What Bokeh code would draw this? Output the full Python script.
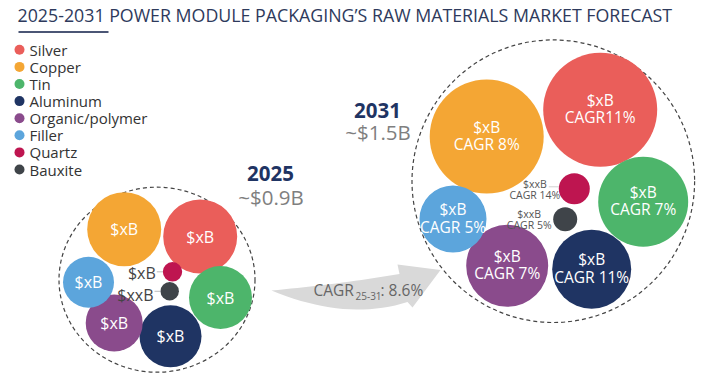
from bokeh.plotting import figure
from bokeh.models import Range1d, ColumnDataSource
from bokeh.core.properties import value
from bokeh.embed import file_html
from bokeh.resources import INLINE

# ---------------- data ----------------
materials = ["Silver", "Copper", "Tin", "Aluminum", "Organic/polymer", "Filler", "Quartz", "Bauxite"]
colors = ["#EA5E5A", "#F4A634", "#4DB56B", "#1F3463", "#8A4B8C", "#5CA5DC", "#BE1550", "#3F4449"]

# bubble sizes (radius, px) per year -- relative market size
size_2025 = [37, 37, 31.5, 31, 28.5, 25.5, 9.7, 9.2]
size_2031 = [57, 57, 45, 39.5, 41, 33.5, 15.5, 12]
value_2025 = ["$xB", "$xB", "$xB", "$xB", "$xB", "$xB", "$xB", "$xxB"]
value_2031 = ["$xB", "$xB", "$xB", "$xB", "$xB", "$xB", "$xxB", "$xxB"]
cagr_2031 = ["CAGR11%", "CAGR 8%", "CAGR 7%", "CAGR 11%", "CAGR 7%", "CAGR 5%", "CAGR 14%", "CAGR 5%"]
total_2025 = "~$0.9B"
total_2031 = "~$1.5B"
cagr_total = "8.6%"

# ---------------- layout (packing positions) ----------------
pos_2025_x = [199.7, 123.7, 220, 170, 113.7, 88, 172, 169.2]
pos_2025_y = [236, 228.7, 297, 335.8, 322.5, 281.7, 271.3, 290.8]
pos_2031_x = [599.7, 486.2, 642.7, 591.2, 506.7, 452.5, 573.8, 564.7]
pos_2031_y = [109.3, 136, 201.3, 268.7, 265.3, 218.5, 188.3, 218.8]

FONT = value("Open Sans")

p = figure(width=697, height=373, x_range=Range1d(0, 697), y_range=Range1d(373, 0),
           output_backend="svg", toolbar_location=None, min_border=0,
           x_axis_location=None, y_axis_location=None)
p.grid.visible = False
p.outline_line_color = None
p.background_fill_color = "white"

# title
p.text(x=[17], y=[14], text=["2025-2031 POWER MODULE PACKAGING\u2019S RAW MATERIALS MARKET FORECAST"],
       text_font=FONT, text_font_size=value("17.8px"), text_color="#2E3A5C",
       text_align="left", text_baseline="middle")
p.segment(x0=[18], y0=[31.5], x1=[108], y1=[31.5], line_color="#4B5675", line_width=2)

# legend
leg_y = [49.3 + 17.1 * i for i in range(len(materials))]
p.scatter(x=[19] * len(materials), y=leg_y, size=10, color=colors, line_color=None)
p.text(x=[29] * len(materials), y=leg_y, text=materials, text_font=FONT,
       text_font_size=value("15px"), text_color="#333333",
       text_align="left", text_baseline="middle")

# outer dashed containers
p.ellipse(x=[156.5], y=[279.2], width=[196], height=[185], fill_color=None,
          line_color="#444444", line_dash="4 3", line_width=1.2)
p.circle(x=[552.8], y=[180.7], radius=[141.3], fill_color=None,
         line_color="#444444", line_dash="4 3", line_width=1.2)

# arrow (decorative)
def qbez(a, c, b, n=20):
    pts = []
    for i in range(n + 1):
        t = i / n
        pts.append(((1 - t) ** 2 * a[0] + 2 * (1 - t) * t * c[0] + t ** 2 * b[0],
                    (1 - t) ** 2 * a[1] + 2 * (1 - t) * t * c[1] + t ** 2 * b[1]))
    return pts

tail = (271, 290)
top = qbez(tail, (336, 284), (399, 273.5))
bottom = qbez((407, 301.5), (346, 321), tail)
head = [(397, 264), (440, 269.5), (412, 307)]
arrow = top + head + bottom
p.patch(x=[q[0] for q in arrow], y=[q[1] for q in arrow], fill_color="#D9D9D9", line_color=None)
p.text(x=[313], y=[289], text=["CAGR"], text_font=FONT, text_font_size=value("15.5px"),
       text_color="#666666", text_align="left", text_baseline="middle")
p.text(x=[355], y=[295], text=["25-31"], text_font=FONT, text_font_size=value("10px"),
       text_color="#666666", text_align="left", text_baseline="middle")
p.text(x=[380], y=[289], text=[": " + cagr_total], text_font=FONT, text_font_size=value("15.5px"),
       text_color="#666666", text_align="left", text_baseline="middle")

# year headers
p.text(x=[270], y=[173], text=["2025"], text_font=FONT, text_font_size=value("20.5px"),
       text_font_style="bold", text_color="#1F3463", text_align="center", text_baseline="middle")
p.text(x=[270.5], y=[196], text=[total_2025], text_font=FONT, text_font_size=value("20.5px"),
       text_color="#7F7F7F", text_align="center", text_baseline="middle")
p.text(x=[377], y=[110], text=["2031"], text_font=FONT, text_font_size=value("20.5px"),
       text_font_style="bold", text_color="#1F3463", text_align="center", text_baseline="middle")
p.text(x=[377.5], y=[131], text=[total_2031], text_font=FONT, text_font_size=value("20.5px"),
       text_color="#7F7F7F", text_align="center", text_baseline="middle")

# bubbles 2025
src25 = ColumnDataSource(dict(x=pos_2025_x, y=pos_2025_y, r=size_2025, c=colors, v=value_2025))
p.circle(x="x", y="y", radius="r", fill_color="c", line_color=None, source=src25)
big = 6
p.text(x=pos_2025_x[:big], y=pos_2025_y[:big], text=value_2025[:big], text_font=FONT,
       text_font_size=value("16px"), text_color="white", text_align="center", text_baseline="middle")
# small bubble call-outs 2025
sx = [pos_2025_x[i] - size_2025[i] for i in (6, 7)]
sy = [pos_2025_y[i] for i in (6, 7)]
p.segment(x0=[x - 6 for x in sx], y0=sy, x1=sx, y1=sy, line_color="#AAAAAA", line_width=0.8)
p.text(x=[x - 7 for x in sx], y=[sy[0] + 1.5, sy[1] + 3.5], text=[value_2025[6], value_2025[7]], text_font=FONT,
       text_font_size=value("16px"), text_color="#444444", text_align="right", text_baseline="middle")

# bubbles 2031
src31 = ColumnDataSource(dict(x=pos_2031_x, y=pos_2031_y, r=size_2031, c=colors))
p.circle(x="x", y="y", radius="r", fill_color="c", line_color=None, source=src31)
p.text(x=pos_2031_x[:big], y=[y - 10 for y in pos_2031_y[:big]], text=value_2031[:big], text_font=FONT,
       text_font_size=value("15.5px"), text_color="white", text_align="center", text_baseline="middle")
p.text(x=pos_2031_x[:big], y=[y + 7.5 for y in pos_2031_y[:big]], text=cagr_2031[:big], text_font=FONT,
       text_font_size=value("15.5px"), text_color="white", text_align="center", text_baseline="middle")
# small bubble call-outs 2031
cx = [pos_2031_x[i] - size_2031[i] - 24 for i in (6, 7)]
cy = [pos_2031_y[i] for i in (6, 7)]
p.segment(x0=[pos_2031_x[6] - size_2031[6] - 10], y0=[cy[0] - 2], x1=[pos_2031_x[6] - size_2031[6]],
          y1=[cy[0] - 2], line_color="#BBBBBB", line_width=0.7)
p.text(x=cx, y=[c - 5 for c in cy], text=[value_2031[6], value_2031[7]], text_font=FONT,
       text_font_size=value("10.5px"), text_color="#555555", text_align="center", text_baseline="middle")
p.text(x=cx, y=[c + 6 for c in cy], text=[cagr_2031[6], cagr_2031[7]], text_font=FONT,
       text_font_size=value("10.5px"), text_color="#555555", text_align="center", text_baseline="middle")

open("out.html", "w").write(file_html(p, INLINE))
